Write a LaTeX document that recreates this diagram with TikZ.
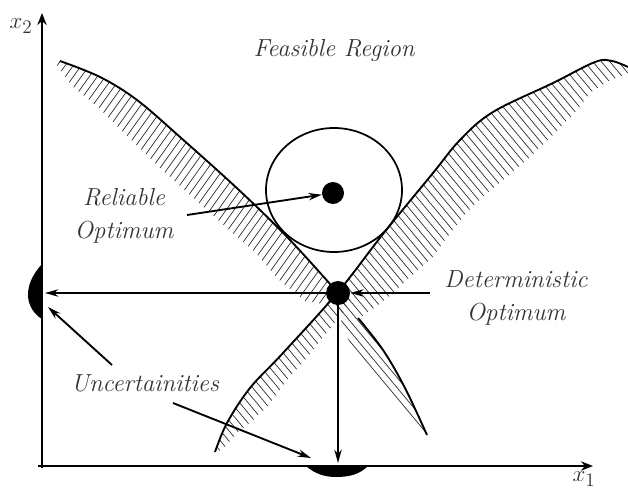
\documentclass[tikz,border=0pt]{standalone}
\usetikzlibrary{arrows.meta}
\begin{document}
\begin{tikzpicture}[x=0.75pt,y=-0.75pt,
  lbl/.style={font=\fontsize{18.5}{25}\selectfont\itshape, text=black!80, align=center, inner sep=0pt},
  axlbl/.style={font=\fontsize{19}{22}\selectfont, text=black!80, inner sep=0pt},
  bound/.style={line width=1.4pt},
  hatch/.style={line width=0.5pt, black!85},
  arr/.style={line width=1.4pt, -{Stealth[length=10pt,width=5.5pt]}},
  axisline/.style={line width=2.2pt, -{Stealth[length=9pt,width=7pt]}},
  dot/.style={circle, fill=black, inner sep=0pt}]
\useasboundingbox (0,0) rectangle (628,489);

% ---- hatched band below-left of constraint A (upper branch)
\begin{scope}
\clip plot[smooth,tension=0.6] coordinates {(60,61) (100,77) (137,100) (180,137) (240,191) (290,240) (338,293)}
  -- (330,305) -- (305,301) -- (278,279) -- (255,252) -- (228,229) -- (198,202) -- (158,166) -- (117,126) -- (98,107) -- (72,86) -- (57,65) -- cycle;
\foreach \x in {80,88,...,600} \draw[hatch] (\x,0) -- ++(-357,500);
\end{scope}

% ---- hatched band below-right of constraint B (upper branch)
\begin{scope}
\clip plot[smooth,tension=0.6] coordinates {(628,67) (612,61) (595,62) (553,83) (493,112) (460,140) (433,173) (383,234) (338,292)}
  -- (360,318) -- (385,300) -- (407,280) -- (433,257) -- (445,240) -- (467,212) -- (487,193) -- (507,177) -- (530,157) -- (553,135) -- (577,110) -- (590,93) -- (610,80) -- (628,74) -- cycle;
\foreach \x in {-300,-291.5,...,650} \draw[hatch] (\x,0) -- ++(500,600);
\end{scope}

% ---- hatched band right of constraint B (lower branch)
\begin{scope}
\clip plot[smooth,tension=0.6] coordinates {(338,292) (283,353) (250,388) (227,423) (215,452)}
  -- (222,450) -- (237,433) -- (253,420) -- (267,407) -- (287,380) -- (305,360) -- (325,335) -- (345,310) -- (350,300) -- cycle;
\foreach \x in {-300,-291.5,...,650} \draw[hatch] (\x,0) -- ++(500,600);
\end{scope}

% ---- hatched band left of constraint A (lower branch)
\begin{scope}
\clip (338,293) -- plot[smooth,tension=0.6] coordinates {(358,318) (383,350) (405,388) (427,435)}
  -- (425,438) -- (417,427) -- (407,413) -- (393,397) -- (380,380) -- (367,365) -- (353,350) -- (342,325) -- (338,300) -- cycle;
\foreach \x in {-300,-291.5,...,650} \draw[hatch] (\x,0) -- ++(500,600);
\end{scope}

% ---- constraint boundaries
\draw[bound] plot[smooth,tension=0.6] coordinates {(60,61) (100,77) (137,100) (180,137) (240,191) (290,240) (338,293)};
\draw[bound] plot[smooth,tension=0.6] coordinates {(358,318) (383,350) (405,388) (427,435)};
\draw[bound] plot[smooth,tension=0.6] coordinates {(628,67) (612,61) (595,62) (553,83) (493,112) (460,140) (433,173) (383,234) (338,292) (283,353) (250,388) (227,423) (215,452)};

% ---- reliability circle
\draw[bound, line width=1.3pt] (334,190) ellipse [x radius=68, y radius=62];

% ---- axes
\coordinate (O) at (38,466);
\coordinate (Oy) at (42,468);
\coordinate (ytop) at (42,13);
\coordinate (xend) at (593,466);
\draw[axisline] (Oy) -- (ytop);
\draw[axisline] (O) -- (xend);
\node[axlbl] (x2lbl) at (21,26) {$x_2$};
\node[axlbl] (x1lbl) at (584,479) {$x_1$};

% ---- uncertainty distributions
\fill (42,264) .. controls (33,274) and (28,284) .. (28,295) .. controls (28,306) and (35,315) .. (42,319) -- cycle;
\fill (306,466) .. controls (315,474) and (325,477) .. (336,477) .. controls (350,477) and (360,474) .. (368,466) -- cycle;

% ---- optima
\node[dot, minimum size=18pt] (det) at (338,293) {};
\node[dot, minimum size=16.5pt] (rel) at (333,193) {};

\coordinate (yhit) at (45,293);
\coordinate (xhit) at (338,463);
\draw[arr] (det) -- (yhit);
\draw[arr] (det) -- (xhit);

% ---- labels
\node[lbl] (feas) at (334,50) {Feasible Region};
\node[lbl] (rellbl) at (124,216) {Reliable\\Optimum};
\node[lbl] (detlbl) at (516,298) {Deterministic\\Optimum};
\node[lbl] (unclbl) at (145,383) {Uncertainities};

\coordinate (relstart) at (187,215);
\draw[arr] (relstart) -- (rel);
\coordinate (detstart) at (430,293);
\draw[arr] (detstart) -- (det);
\coordinate (u1start) at (112,365);
\coordinate (u1end) at (48,307);
\draw[arr] (u1start) -- (u1end);
\coordinate (u2start) at (173,403);
\coordinate (u2end) at (311,458);
\draw[arr] (u2start) -- (u2end);
\end{tikzpicture}
\end{document}
